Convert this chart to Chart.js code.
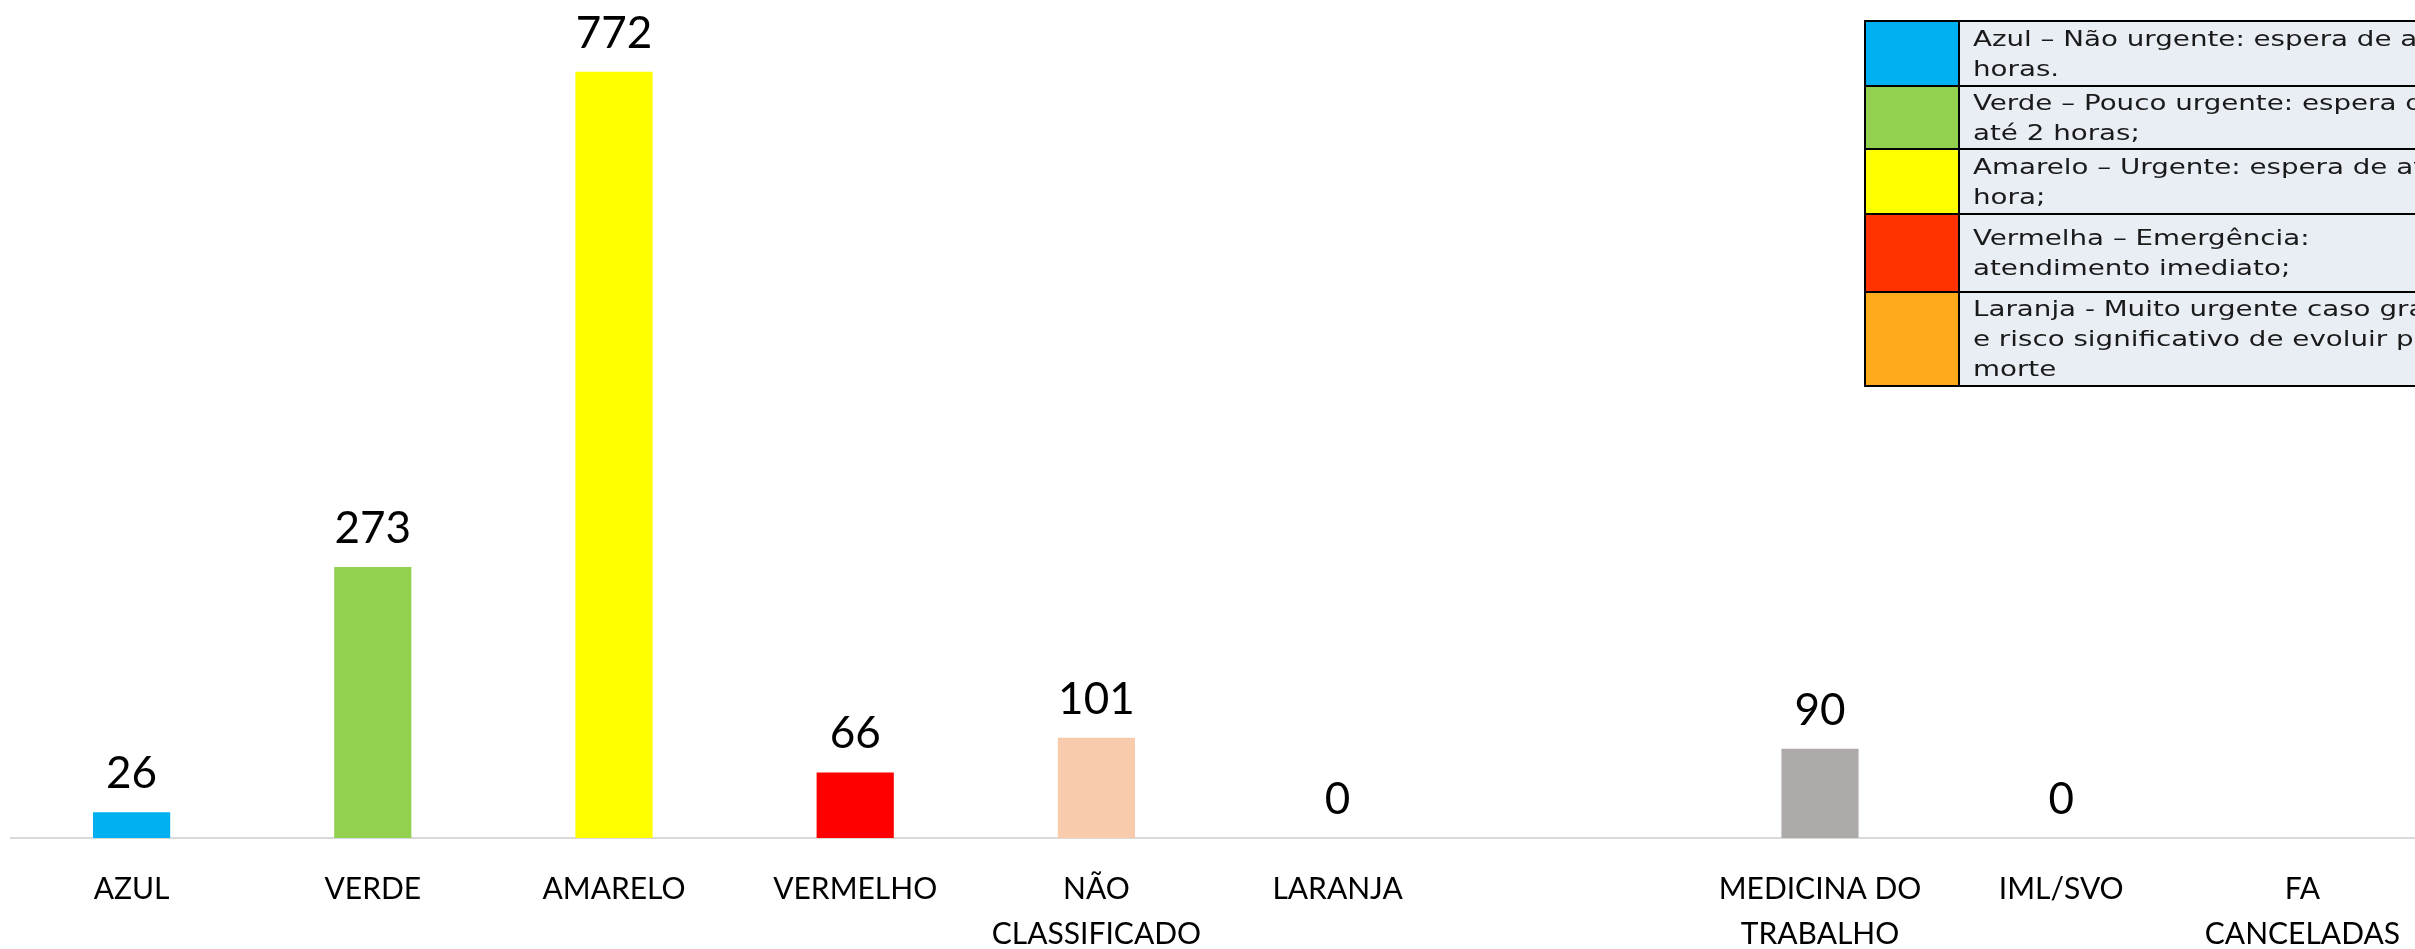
<!DOCTYPE html>
<html lang="pt">
<head>
    <meta charset="UTF-8">
    <title>Classificação de risco</title>
    <script src="https://cdn.jsdelivr.net/npm/chart.js"></script>
    <style>
        html, body { margin: 0; padding: 0; background: #fff; overflow: hidden; }
        /* the plot runs a few px past the right edge, as in the original crop */
        .chart-container { position: relative; width: 2423px; height: 949px; }
        .legend-table {
            position: absolute; left: 1864px; top: 20px;
            border-collapse: collapse; table-layout: fixed; width: 794px;
            font-family: "DejaVu Sans", sans-serif; font-size: 22px; line-height: 30px;
            color: #1a1a1a;
        }
        .legend-table td { border: 2px solid #000; padding: 0; }
        .legend-table td.txt { background: #E9EDF4; padding-left: 13px; white-space: nowrap; vertical-align: middle; overflow: hidden; }
        .legend-table td.txt span { display: inline-block; transform: scaleX(1.26); transform-origin: 0 50%; }
    </style>
</head>
<body>
    <div class="chart-container">
        <canvas id="riscoChart"></canvas>
        <table class="legend-table" id="legendTable">
            <colgroup><col style="width:94px"><col style="width:700px"></colgroup>
        </table>
    </div>

    <script>
        const categories = [['AZUL'], ['VERDE'], ['AMARELO'], ['VERMELHO'], ['NÃO', 'CLASSIFICADO'], ['LARANJA'], [''], ['MEDICINA DO', 'TRABALHO'], ['IML/SVO'], ['FA', 'CANCELADAS']];
        const values = [26, 273, 772, 66, 101, 0, null, 90, 0, null];
        const barColors = ['#00B0F0', '#92D050', '#FFFF00', '#FF0000', '#F8CBAD', '#FFC000', '#FFFFFF', '#AEAAAA', '#7F7F7F', '#7F7F7F'];

        const legendColors = ['#00B0F0', '#92D050', '#FFFF00', '#FF3300', '#FFAA1A'];
        const legendTexts = [
            ['Azul – Não urgente: espera de até 4', 'horas.'],
            ['Verde – Pouco urgente: espera de', 'até 2 horas;'],
            ['Amarelo – Urgente: espera de até 1', 'hora;'],
            ['Vermelha – Emergência:', 'atendimento imediato;'],
            ['Laranja - Muito urgente caso grave', 'e risco significativo de evoluir para', 'morte']
        ];
        const legendRowHeights = [65, 63, 65, 78, 94];

        // legend table (top right)
        const table = document.getElementById('legendTable');
        legendTexts.forEach((lines, i) => {
            const tr = document.createElement('tr');
            tr.style.height = legendRowHeights[i] + 'px';
            const sw = document.createElement('td');
            sw.style.background = legendColors[i];
            const td = document.createElement('td');
            td.className = 'txt';
            const span = document.createElement('span');
            lines.forEach((l, j) => {
                if (j > 0) span.appendChild(document.createElement('br'));
                span.appendChild(document.createTextNode(l));
            });
            td.appendChild(span);
            tr.appendChild(sw);
            tr.appendChild(td);
            table.appendChild(tr);
        });

        const labelFont = '"Liberation Sans Narrow", "Arial Narrow", Lato, sans-serif';

        const valueLabels = {
            id: 'valueLabels',
            afterDatasetsDraw(chart) {
                const ctx = chart.ctx;
                const meta = chart.getDatasetMeta(0);
                ctx.save();
                ctx.font = '44px ' + labelFont;
                ctx.fillStyle = '#000';
                ctx.textAlign = 'center';
                ctx.textBaseline = 'alphabetic';
                meta.data.forEach((bar, i) => {
                    if (values[i] === null) return;
                    ctx.fillText(String(values[i]), bar.x, bar.y - 24);
                });
                ctx.restore();
            }
        };

        new Chart(document.getElementById('riscoChart'), {
            type: 'bar',
            data: {
                labels: categories,
                datasets: [{
                    data: values,
                    backgroundColor: barColors,
                    categoryPercentage: 1,
                    barPercentage: 0.32
                }]
            },
            options: {
                responsive: true,
                maintainAspectRatio: false,
                animation: false,
                layout: { padding: { left: 11, right: 0, top: 44, bottom: 0 } },
                plugins: { legend: { display: false }, tooltip: { enabled: false } },
                scales: {
                    y: { display: false, min: 0, max: 800 },
                    x: {
                        grid: { display: false },
                        border: { display: true, color: '#D9D9D9', width: 2 },
                        ticks: {
                            color: '#000',
                            font: { family: labelFont, size: 30, lineHeight: 1.5 },
                            padding: 21,
                            maxRotation: 0,
                            autoSkip: false
                        },
                        afterFit: (scale) => { scale.height = 111; }
                    }
                }
            },
            plugins: [valueLabels]
        });
    </script>
</body>
</html>
